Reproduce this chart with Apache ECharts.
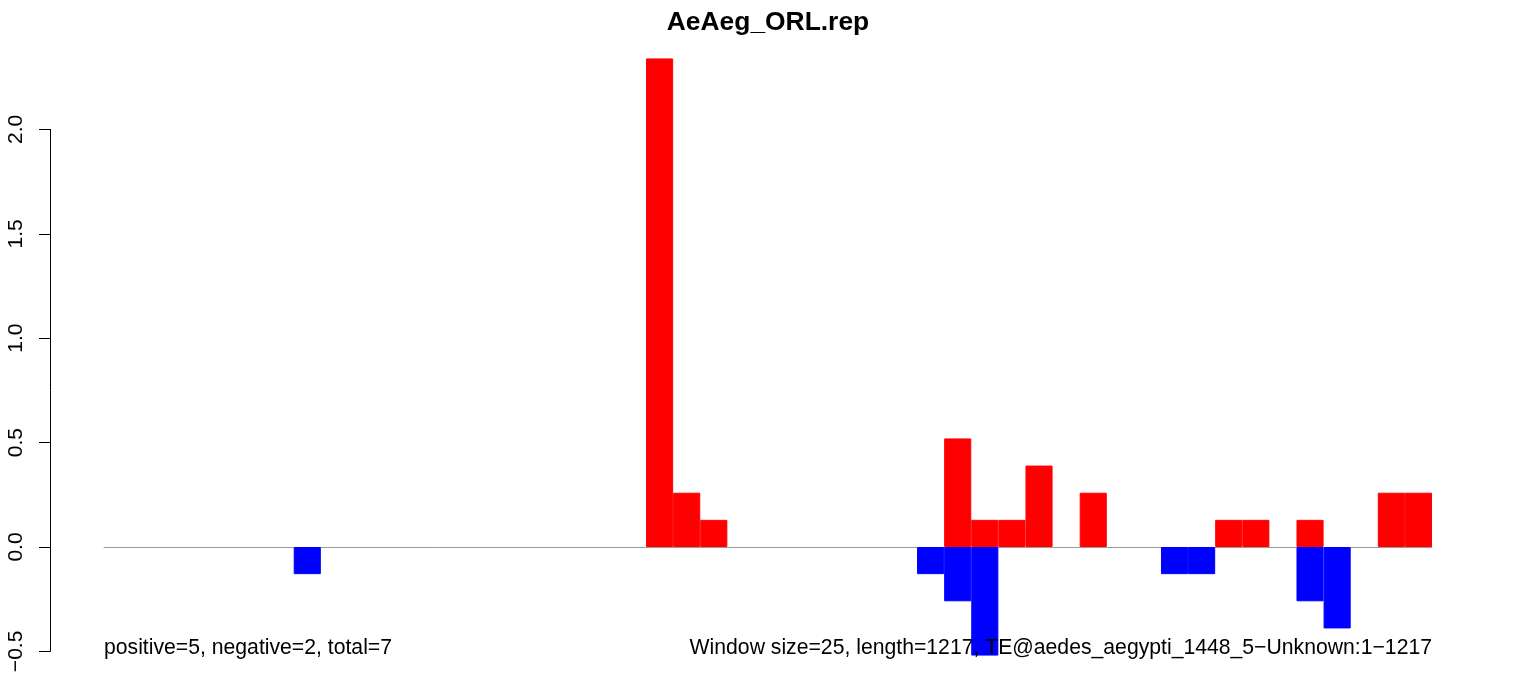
<!DOCTYPE html>
<html>
<head>
<meta charset="utf-8">
<style>
html,body{margin:0;padding:0;background:#fff;}
#chart{width:1533px;height:677px;}
</style>
<script src="https://cdn.jsdelivr.net/npm/echarts@6/dist/echarts.min.js"></script>
</head>
<body>
<div id="chart"></div>
<script>
// Window start positions (window size 25, length 1217)
var categories = ["1","26","51","76","101","126","151","176","201","226","251","276","301","326","351","376","401","426","451","476","501","526","551","576","601","626","651","676","701","726","751","776","801","826","851","876","901","926","951","976","1001","1026","1051","1076","1101","1126","1151","1176","1201"];
// Positive-strand signal per window
var positiveValues = [null,null,null,null,null,null,null,null,null,null,null,null,null,null,null,null,null,null,null,null,2.34,0.26,0.13,null,null,null,null,null,null,null,null,0.52,0.13,0.13,0.39,null,0.26,null,null,null,null,0.13,0.13,null,0.13,null,null,0.26,0.26];
// Negative-strand signal per window
var negativeValues = [null,null,null,null,null,null,null,-0.13,null,null,null,null,null,null,null,null,null,null,null,null,null,null,null,null,null,null,null,null,null,null,-0.13,-0.26,-0.52,null,null,null,null,null,null,-0.13,-0.13,null,null,null,-0.26,-0.39,null,null,null];
var yTickValues = [-0.5, 0, 0.5, 1.0, 1.5, 2.0];
var yTickLabels = ["\u22120.5", "0.0", "0.5", "1.0", "1.5", "2.0"];
var titleText = "AeAeg_ORL.rep";
var leftNote = "positive=5, negative=2, total=7";
var rightNote = "Window size=25, length=1217, TE@aedes_aegypti_1448_5\u2212Unknown:1\u22121217";

var FONT = '"Liberation Sans", Arial, Helvetica, sans-serif';
var chart = echarts.init(document.getElementById('chart'), null, {renderer: 'canvas'});
chart.setOption({
  animation: false,
  backgroundColor: '#ffffff',
  grid: {left: 104, right: 101, top: 129.4, bottom: 25.6, containLabel: false},
  xAxis: {
    type: 'category',
    data: categories,
    axisLine: {show: true, onZero: true, lineStyle: {color: '#9a9a9a', width: 1}},
    axisTick: {show: false},
    axisLabel: {show: false},
    splitLine: {show: false}
  },
  yAxis: {
    type: 'value',
    min: -0.5, max: 2.0, interval: 0.5,
    offset: 54,
    axisLine: {show: true, lineStyle: {color: '#000', width: 1}},
    axisTick: {show: true, length: 11, lineStyle: {color: '#000', width: 1}},
    splitLine: {show: false},
    axisLabel: {
      rotate: 90,
      margin: 23,
      color: '#000',
      fontFamily: FONT,
      fontSize: 21,
      formatter: function (v) {
        for (var i = 0; i < yTickValues.length; i++) {
          if (Math.abs(yTickValues[i] - v) < 1e-9) return yTickLabels[i];
        }
        return '';
      }
    }
  },
  series: [
    {
      type: 'bar', name: 'positive', data: positiveValues,
      barWidth: '100%', barGap: '-100%', clip: false,
      itemStyle: {color: '#ff0000', borderColor: '#ff0000', borderWidth: 1}, z: 3
    },
    {
      type: 'bar', name: 'negative', data: negativeValues,
      barWidth: '100%', barGap: '-100%', clip: false,
      itemStyle: {color: '#0000ff', borderColor: '#0000ff', borderWidth: 1}, z: 3
    }
  ],
  graphic: [
    {type: 'text', x: 768, y: 23, style: {text: titleText, font: 'bold 26.4px ' + FONT, fill: '#000', textAlign: 'center', textVerticalAlign: 'middle'}},
    {type: 'text', x: 104, y: 648, style: {text: leftNote, font: '21.2px ' + FONT, fill: '#000', textAlign: 'left', textVerticalAlign: 'middle'}},
    {type: 'text', x: 1432, y: 648, style: {text: rightNote, font: '21.2px ' + FONT, fill: '#000', textAlign: 'right', textVerticalAlign: 'middle'}, z: 10}
  ]
});
</script>
</body>
</html>
